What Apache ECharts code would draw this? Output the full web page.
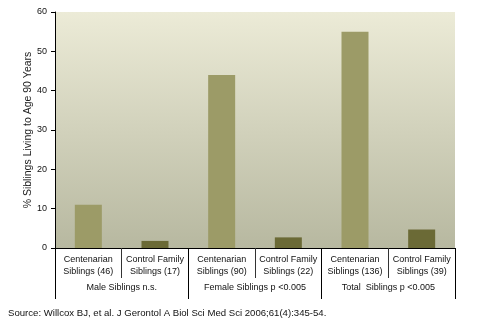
<!DOCTYPE html>
<html><head><meta charset="utf-8">
<script src="https://cdn.jsdelivr.net/npm/echarts@6/dist/echarts.min.js"></script>
<style>html,body{margin:0;padding:0;background:#fff}#c{width:478px;height:326px}</style>
</head><body><div id="c"></div>
<script>
var categories = ["Centenarian\nSiblings (46)", "Control Family\nSiblings (17)", "Centenarian\nSiblings (90)", "Control Family\nSiblings (22)", "Centenarian\nSiblings (136)", "Control Family\nSiblings (39)"];
var groups = ["Male Siblings n.s.", "Female Siblings p <0.005", "Total  Siblings p <0.005"];
var values = [11, 1.8, 44, 2.7, 55, 4.7];
var barTypes = ["centenarian", "control", "centenarian", "control", "centenarian", "control"];
var yTicks = [0, 10, 20, 30, 40, 50, 60];
var typeColors = {centenarian: "#9c9b67", control: "#6b6a36"};
var font = "Liberation Sans, Arial, sans-serif";
var chart = echarts.init(document.getElementById('c'));
chart.setOption({
  animation: false,
  grid: {left: 55, right: 23, top: 12, bottom: 78, show: true, borderWidth: 0,
    backgroundColor: new echarts.graphic.LinearGradient(0, 0, 0, 1, [{offset: 0, color: '#ecebd7'}, {offset: 1, color: '#b7b8a0'}])},
  xAxis: [{
    type: 'category', data: categories, position: 'bottom',
    axisLine: {lineStyle: {color: '#000', width: 1}},
    axisTick: {show: true, interval: 0, length: 30, lineStyle: {color: '#333'}},
    axisLabel: {interval: 0, margin: 6, color: '#111', fontSize: 9, fontFamily: font, lineHeight: 12}
  }, {
    type: 'category', data: groups, position: 'bottom',
    axisLine: {show: false},
    axisTick: {show: true, interval: 0, length: 51, lineStyle: {color: '#000'}},
    axisLabel: {interval: 0, margin: 35, color: '#111', fontSize: 9, fontFamily: font}
  }],
  yAxis: {
    type: 'value', min: yTicks[0], max: yTicks[yTicks.length - 1], interval: 10,
    name: '% Siblings Living to Age 90 Years', nameLocation: 'middle', nameGap: 21, nameRotate: 90,
    nameMoveOverlap: false,
    nameTextStyle: {fontSize: 10.5, color: '#222', fontFamily: font},
    axisLine: {show: true, lineStyle: {color: '#000'}},
    axisTick: {show: true, length: 4, lineStyle: {color: '#000'}},
    axisLabel: {fontSize: 9, color: '#111', fontFamily: font, margin: 8},
    splitLine: {show: false}
  },
  series: [{
    type: 'bar', xAxisIndex: 0, barWidth: 27,
    data: values.map(function (v, i) { return {value: v, itemStyle: {color: typeColors[barTypes[i]]}}; })
  }],
  graphic: [{
    type: 'text', left: 8, top: 308,
    style: {text: 'Source: Willcox BJ, et al. J Gerontol A Biol Sci Med Sci 2006;61(4):345-54.', fontSize: 9.6, fill: '#111', fontFamily: font}
  }]
});
</script></body></html>
